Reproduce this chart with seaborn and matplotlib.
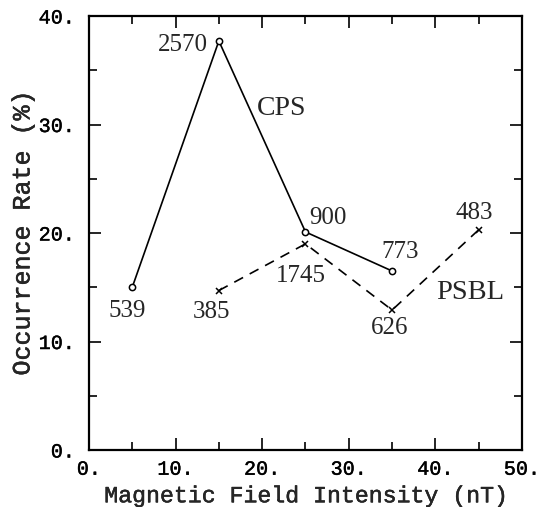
import matplotlib
matplotlib.use("Agg")
import matplotlib.pyplot as plt
import matplotlib.patheffects as pe
from matplotlib.ticker import FuncFormatter, MultipleLocator
import seaborn as sns

# field intensity bins (nT)
cps_x = [5, 15, 25, 35]
cps_rate = [15.0, 37.7, 20.1, 16.5]
cps_counts = ["539", "2570", "900", "773"]

psbl_x = [15, 25, 35, 45]
psbl_rate = [14.7, 19.0, 12.9, 20.3]
psbl_counts = ["385", "1745", "626", "483"]

# label offsets in pixels, relative to each point
cps_offsets = [(-5, -24), (-11, -4), (22, 14), (8, 19)]
cps_ha = ["center", "right", "center", "center"]
psbl_offsets = [(-7, -21), (-5, -32), (-2, -18), (-4, 17)]

sns.set_style("ticks")
plt.rcParams["font.family"] = ["Liberation Mono", "DejaVu Sans Mono"]

fig = plt.figure(figsize=(5.39, 5.07), dpi=100)
ax = fig.add_axes([0.165, 0.1124, 0.8035, 0.856])

sns.lineplot(x=cps_x, y=cps_rate, ax=ax, color="black", linewidth=1.2,
             marker="o", markersize=4.5, markerfacecolor="white",
             markeredgecolor="black", markeredgewidth=1.1, sort=False)
sns.lineplot(x=psbl_x, y=psbl_rate, ax=ax, color="black", linewidth=1.2,
             linestyle=(0, (6, 4.5)), marker="x", markersize=5,
             markeredgecolor="black", markeredgewidth=1.1, sort=False)

serif = ["Liberation Serif", "DejaVu Serif"]
for x, y, s, off, ha in zip(cps_x, cps_rate, cps_counts, cps_offsets, cps_ha):
    ax.annotate(s, (x, y), xytext=off, textcoords="offset pixels",
                ha=ha, va="center", fontsize=18, family=serif)
for x, y, s, off in zip(psbl_x, psbl_rate, psbl_counts, psbl_offsets):
    ax.annotate(s, (x, y), xytext=off, textcoords="offset pixels",
                ha="center", va="center", fontsize=18, family=serif)

ax.text(0.446, 0.788, "CPS", transform=ax.transAxes, ha="center",
        va="center", fontsize=20, family=serif)
ax.text(0.88, 0.362, "PSBL", transform=ax.transAxes, ha="center",
        va="center", fontsize=20.5, family=serif)

ax.set_xlim(0, 50)
ax.set_ylim(0, 40)
ax.xaxis.set_major_locator(MultipleLocator(10))
ax.xaxis.set_minor_locator(MultipleLocator(5))
ax.yaxis.set_major_locator(MultipleLocator(10))
ax.yaxis.set_minor_locator(MultipleLocator(5))
fmt = FuncFormatter(lambda v, p: f"{v:.0f}.")
ax.xaxis.set_major_formatter(fmt)
ax.yaxis.set_major_formatter(fmt)

ax.tick_params(which="both", direction="in", top=True, right=True,
               width=1.2, colors="black", labelsize=14.5)
ax.tick_params(which="major", length=8.5)
ax.tick_params(which="minor", length=5.5)
ax.tick_params(axis="x", pad=7)
ax.tick_params(axis="y", pad=10)
for sp in ax.spines.values():
    sp.set_visible(True)
    sp.set_linewidth(1.6)
    sp.set_color("black")

ax.set_xlabel("Magnetic Field Intensity (nT)", fontsize=16.7, labelpad=4)
ax.set_ylabel("Occurrence Rate (%)", fontsize=18, labelpad=3)

# the axis text in the original is a slightly heavier typewriter face
thick = [pe.withStroke(linewidth=0.3, foreground="black")]
for t in ax.get_xticklabels() + ax.get_yticklabels():
    t.set_path_effects(thick)
ax.xaxis.label.set_path_effects(thick)
ax.yaxis.label.set_path_effects(thick)

fig.savefig("out.png", dpi=100)
